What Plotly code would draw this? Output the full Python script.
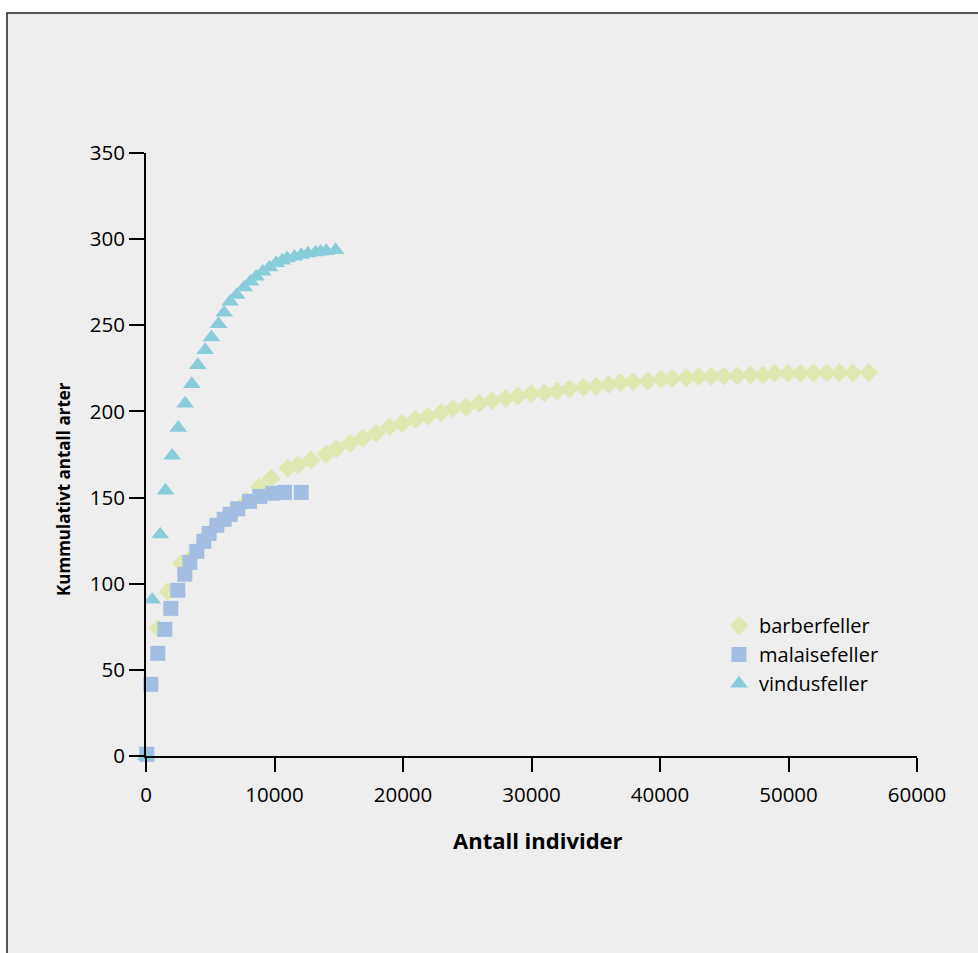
import plotly.graph_objects as go

# ---- data ----
barber_x = [920, 1700, 2740, 3750, 4760, 5780, 6800, 7810, 8830, 9740, 11030, 11810, 12850,
            14020, 14800, 15900, 16870, 17910, 18950, 19940, 20970, 21930, 22950, 23880,
            24920, 25950, 26940, 27980, 28930, 29980, 31010, 32000, 32960, 34050, 35030,
            36000, 36930, 37910, 39050, 40090, 40950, 42040, 43000, 43980, 44960, 46010,
            47040, 48000, 48910, 49950, 50930, 51950, 52980, 53970, 55000, 56250]
barber_y = [74.1, 95.4, 111.8, 117, 127.5, 135, 141, 148, 156.3, 161.2, 167, 168.9, 171.8,
            175.3, 178.3, 181.5, 184.4, 187.3, 191, 193.1, 195.3, 197.1, 199.3, 201.5,
            202.6, 204.7, 206.2, 207.6, 208.9, 210.3, 210.7, 211.8, 213, 214, 214.6,
            215.7, 216.7, 217.2, 217.6, 218.6, 219.2, 219.4, 220.2, 220.3, 220.5, 220.6,
            221.1, 221.2, 222.0, 222.1, 222.2, 222.3, 222.5, 222.5, 222.5, 222.6]

malaise_x = [60, 375, 920, 1465, 1930, 2475, 3020, 3410, 3955, 4500, 4910, 5510, 6085, 6550,
             7145, 8050, 8860, 9870, 10780, 12080]
malaise_y = [1, 41.6, 59.6, 73.5, 85.7, 96.2, 105.5, 112.4, 118.8, 124.6, 129.2, 133.9, 137.4,
             140.3, 143.5, 147.8, 150.7, 152.5, 153, 153]

vindus_x = [0, 482, 1105, 1517, 2039, 2506, 3050, 3564, 4031, 4607, 5097, 5642, 6085, 6553,
            7066, 7642, 8132, 8576, 9090, 9610, 10130, 10600, 10990, 11560, 12080, 12590,
            13190, 13580, 14020, 14750]
vindus_y = [0, 90.7, 128.6, 154.1, 174.3, 190.5, 204.6, 215.9, 226.9, 235.6, 243, 250.7, 257.3,
            263.7, 267.6, 272, 275.3, 278.2, 281.1, 283.6, 286.1, 287.6, 288.8, 289.8, 290.8,
            291.7, 292.3, 292.7, 293.1, 293.7]

names = ["barberfeller", "malaisefeller", "vindusfeller"]
x_ticks = [0, 10000, 20000, 30000, 40000, 50000, 60000]
y_ticks = [0, 50, 100, 150, 200, 250, 300, 350]

FONT = "Open Sans"

fig = go.Figure()
fig.add_trace(go.Scatter(x=barber_x, y=barber_y, mode="markers", name=names[0],
                         marker=dict(symbol="diamond", size=14.5, color="#dde9b1", line=dict(width=0)),
                         cliponaxis=False))
fig.add_trace(go.Scatter(x=malaise_x, y=malaise_y, mode="markers", name=names[1],
                         marker=dict(symbol="square", size=15, color="#a4bde2", line=dict(width=0)),
                         cliponaxis=False))
fig.add_trace(go.Scatter(x=vindus_x, y=vindus_y, mode="markers", name=names[2],
                         marker=dict(symbol="triangle-up", size=15.5, color="#88cdd9", line=dict(width=0)),
                         cliponaxis=False))

L, R, T, B = 146, 61, 153, 197
W, H = 978, 953
pw = W - L - R
ph = H - T - B

def px_x(p):
    return (p - L) / pw

def px_y(p):
    return (H - B - p) / ph

fig.update_layout(
    width=W, height=H,
    margin=dict(l=L, r=R, t=T, b=B, pad=0),
    paper_bgcolor="white",
    plot_bgcolor="#eeeeee",
    font=dict(family=FONT, size=20, color="black"),
    showlegend=True,
    legend=dict(x=px_x(719), y=px_y(606), xanchor="left", yanchor="top",
                bgcolor="rgba(0,0,0,0)", font=dict(family=FONT, size=20, color="black"),
                itemsizing="trace", tracegroupgap=0),
    xaxis=dict(range=[0, 60000], tickvals=x_ticks, ticktext=[str(v) for v in x_ticks],
               showgrid=False, zeroline=False, showline=True, linecolor="black", linewidth=2,
               ticks="outside", ticklen=14, tickwidth=2, tickcolor="black",
               tickfont=dict(family=FONT, size=20.5, color="black"), ticklabelstandoff=5),
    yaxis=dict(range=[0, 350], tickvals=y_ticks, ticktext=[str(v) for v in y_ticks],
               showgrid=False, zeroline=False, showline=True, linecolor="black", linewidth=2,
               ticks="outside", ticklen=15, tickwidth=2, tickcolor="black",
               tickfont=dict(family=FONT, size=20.5, color="black"), ticklabelstandoff=0),
    shapes=[dict(type="rect", xref="paper", yref="paper", layer="below",
                 x0=px_x(7), x1=px_x(1100), y0=px_y(1100), y1=px_y(13),
                 fillcolor="#eeeeee", line=dict(color="#222222", width=1.5))],
    annotations=[
        dict(text="<b>Antall individer</b>", xref="paper", yref="paper",
             x=px_x(538), y=px_y(840), xanchor="center", yanchor="middle", showarrow=False,
             font=dict(family=FONT, size=22, color="black")),
        dict(text="<b>Kummulativt antall arter</b>", xref="paper", yref="paper",
             x=px_x(63), y=px_y(489), xanchor="center", yanchor="middle", showarrow=False,
             textangle=-90, font=dict(family=FONT, size=17, color="black")),
    ],
)

fig.write_html("out.html")
